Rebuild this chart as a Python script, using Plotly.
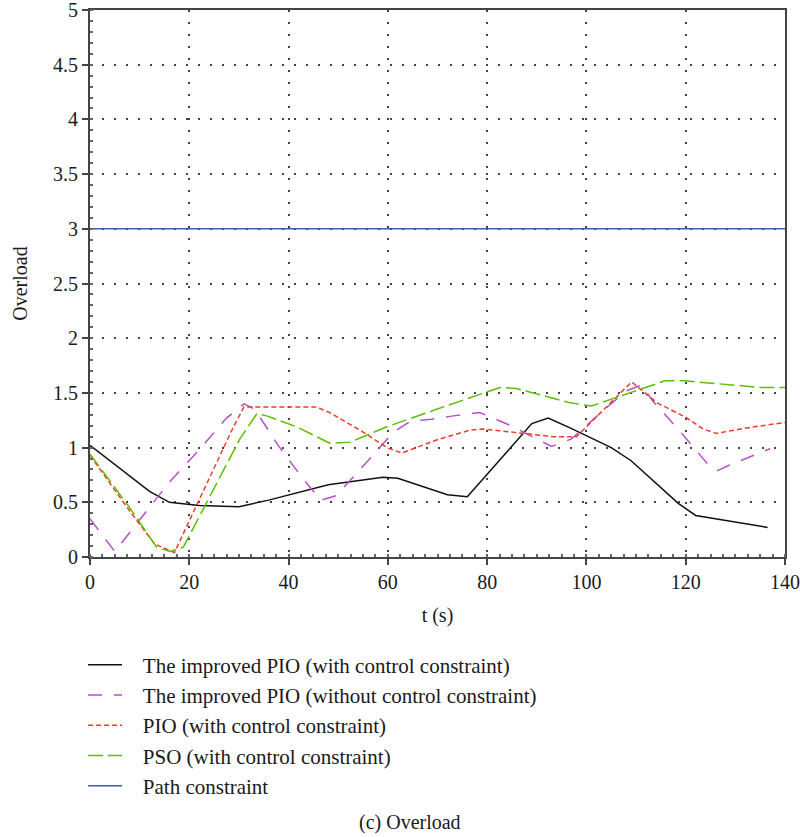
import plotly.graph_objects as go

# Data
t_black = [0, 4, 8, 12, 16, 22, 30, 36, 48, 59, 62, 72, 76, 89, 92.3, 96.7, 105, 109, 118.5, 122, 136.5]
v_black = [1.02, 0.88, 0.74, 0.60, 0.50, 0.47, 0.46, 0.52, 0.66, 0.73, 0.72, 0.57, 0.55, 1.22, 1.27, 1.18, 1.00, 0.88, 0.49, 0.38, 0.27]

t_purple = [0, 5, 10.7, 16.1, 21.8, 27.5, 31, 33.2, 37.9, 43, 46.5, 49.6, 55.4, 61.1, 64.5, 68.8, 73.2, 78.5, 81.2, 85.3, 89, 93, 97, 100.4, 103.4, 108.1, 111, 113.5, 119.2, 124.6, 126.4, 128.3, 132.6, 137]
v_purple = [0.35, 0.05, 0.38, 0.69, 0.97, 1.27, 1.40, 1.35, 1.02, 0.71, 0.52, 0.56, 0.85, 1.14, 1.24, 1.26, 1.29, 1.32, 1.27, 1.19, 1.10, 1.01, 1.08, 1.22, 1.34, 1.52, 1.57, 1.42, 1.13, 0.84, 0.79, 0.83, 0.91, 0.99]

t_red = [0, 8, 13, 17, 20.1, 24.8, 28.9, 31, 45.7, 48.3, 55.1, 59.8, 62.8, 69.8, 76.6, 79.2, 86.6, 93.3, 98, 109.1, 114.2, 119.9, 123.5, 126.2, 132.3, 140]
v_red = [0.93, 0.42, 0.12, 0.04, 0.34, 0.79, 1.19, 1.37, 1.37, 1.32, 1.14, 1.00, 0.95, 1.07, 1.16, 1.17, 1.13, 1.10, 1.10, 1.60, 1.41, 1.28, 1.17, 1.13, 1.18, 1.23]

t_green = [0, 8, 13.4, 16.1, 18.8, 24.8, 30.2, 33.6, 35.6, 41.6, 48.3, 52.4, 59.8, 69.8, 79.9, 82.6, 85.9, 96.7, 101, 111.5, 115.8, 119.9, 126.9, 135, 140]
v_green = [0.94, 0.45, 0.09, 0.05, 0.09, 0.61, 1.08, 1.31, 1.29, 1.19, 1.04, 1.05, 1.19, 1.35, 1.51, 1.55, 1.54, 1.41, 1.38, 1.54, 1.61, 1.61, 1.58, 1.55, 1.55]

t_path = [0, 140]
v_path = [3, 3]

names = [
    "The improved PIO (with control constraint)",
    "The improved PIO (without control constraint)",
    "PIO (with control constraint)",
    "PSO (with control constraint)",
    "Path constraint",
]

FONT = "Liberation Serif"
PAD = "\u00a0\u00a0\u00a0"
TXT = "#1a1a1a"

fig = go.Figure()
fig.add_trace(go.Scatter(x=t_black, y=v_black, mode="lines", name=PAD + names[0], legendgroup="a",
                         line=dict(color="#111111", width=1.5)))
fig.add_trace(go.Scatter(x=t_purple, y=v_purple, mode="lines", name=PAD + names[1], legendgroup="b",
                         line=dict(color="#b452c8", width=1.5, dash="14px,12px")))
fig.add_trace(go.Scatter(x=t_red, y=v_red, mode="lines", name=PAD + names[2], legendgroup="c",
                         line=dict(color="#ee3b2e", width=1.5, dash="5px,3px")))
fig.add_trace(go.Scatter(x=t_green, y=v_green, mode="lines", name=PAD + names[3], legendgroup="d",
                         line=dict(color="#5cbf00", width=1.5, dash="15px,5px")))
fig.add_trace(go.Scatter(x=t_path, y=v_path, mode="lines", name=PAD + names[4], legendgroup="e",
                         line=dict(color="#3a5cb0", width=1.5)))

axis_common = dict(
    showline=True, linecolor="#444444", linewidth=2, mirror=True,
    ticks="outside", ticklen=6, tickcolor="#444444", tickwidth=1.5,
    showgrid=True, gridcolor="#444444", gridwidth=1.5, griddash="2px,10px",
    zeroline=False, ticklabeloverflow="allow", automargin=False,
    tickfont=dict(family=FONT, size=20, color=TXT),
)

fig.update_xaxes(range=[0, 140], dtick=20, tick0=0,
                 title=dict(text="t (s)", font=dict(family=FONT, size=20, color=TXT), standoff=16),
                 minor=dict(dtick=2.5, ticks="inside", ticklen=3, tickcolor="#666666", showgrid=False),
                 **axis_common)
fig.update_yaxes(range=[0, 5], dtick=0.5, tick0=0,
                 title=dict(text="Overload", font=dict(family=FONT, size=20, color=TXT), standoff=20),
                 minor=dict(dtick=0.1, ticks="inside", ticklen=3, tickcolor="#666666", showgrid=False),
                 **axis_common)

fig.add_annotation(text="(c) Overload", xref="paper", yref="paper", x=0.46, y=-0.486,
                   showarrow=False, xanchor="center", yanchor="middle",
                   font=dict(family=FONT, size=20, color=TXT))

fig.update_layout(
    width=800, height=837,
    margin=dict(l=90, r=15, t=10, b=280, autoexpand=False),
    paper_bgcolor="white", plot_bgcolor="white",
    showlegend=True,
    legend=dict(x=-0.01, xanchor="left", y=-0.16, yanchor="top",
                font=dict(family=FONT, size=21, color=TXT),
                tracegroupgap=0, itemwidth=34, bgcolor="rgba(0,0,0,0)"),
)

fig.write_html("out.html")
